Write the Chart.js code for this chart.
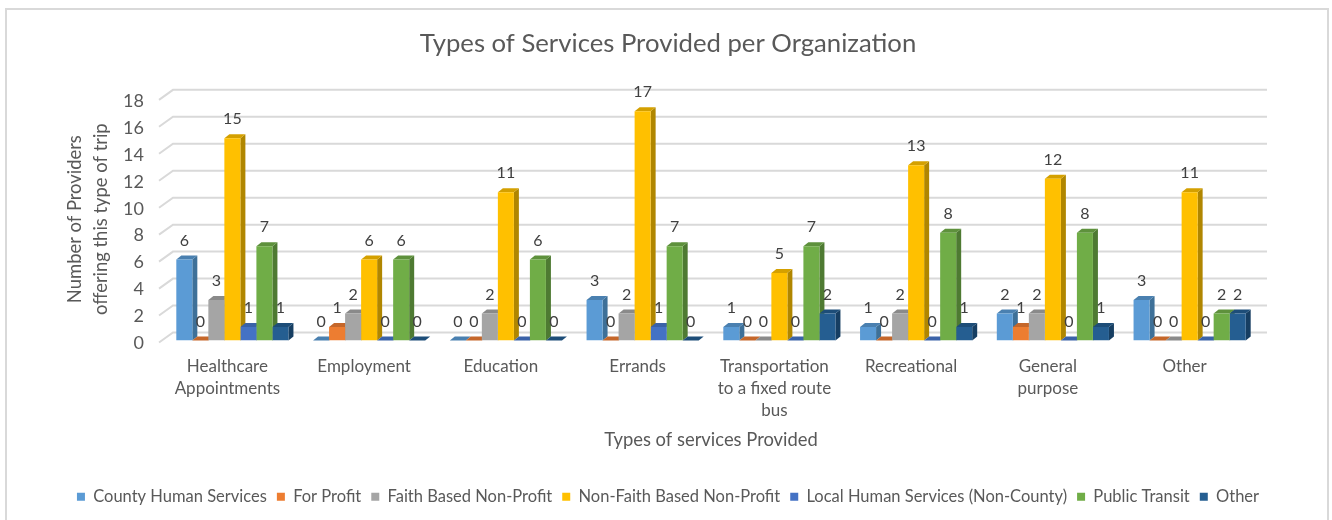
<!DOCTYPE html>
<html>
<head>
<meta charset="utf-8">
<script src="https://cdn.jsdelivr.net/npm/chart.js@4/dist/chart.umd.min.js"></script>
<style>
  html, body { margin: 0; padding: 0; background: #fff; }
  canvas { display: block; }
</style>
</head>
<body>
<canvas id="servicesChart" width="1332" height="520"></canvas>
<script>
// values
const categories = [
    ['Healthcare', 'Appointments'],
    'Employment',
    'Education',
    'Errands',
    ['Transportation', 'to a fixed route', 'bus'],
    'Recreational',
    ['General', 'purpose'],
    'Other'
];
const countyHuman = [6, 0, 0, 3, 1, 1, 2, 3];
const forProfit = [0, 1, 0, 0, 0, 0, 1, 0];
const faithBased = [3, 2, 2, 2, 0, 2, 2, 0];
const nonFaithBased = [15, 6, 11, 17, 5, 13, 12, 11];
const localHuman = [1, 0, 0, 1, 0, 0, 0, 0];
const publicTransit = [7, 6, 6, 7, 7, 8, 8, 2];
const otherOrg = [1, 0, 0, 0, 2, 1, 1, 2];
const yTicks = [0, 2, 4, 6, 8, 10, 12, 14, 16, 18];

const FONT = 'Lato, "Open Sans", sans-serif';
const TEXT = '#595959';

// [front, side, top]
const shades = {
    blue: ['#5B9BD5', '#3E7098', '#4A80B0'],
    orange: ['#ED7D31', '#A85A24', '#C5672A'],
    gray: ['#A5A5A5', '#767676', '#8A8A8A'],
    yellow: ['#FFC000', '#B08600', '#D4A000'],
    indigo: ['#4472C4', '#30518C', '#3A62A8'],
    green: ['#70AD47', '#4E7A32', '#5E913C'],
    navy: ['#255E91', '#163E62', '#1D4D78']
};

function series(label, data, shade) {
    return {
        label: label,
        data: data,
        backgroundColor: shade[0],
        sideColor: shade[1],
        topColor: shade[2],
        borderWidth: 0,
        categoryPercentage: 0.82,
        barPercentage: 1
    };
}

// frame round the chart and the back wall with its grid lines
const wallPlugin = {
    id: 'wall',
    beforeDraw(chart) {
        const c = chart.ctx;
        c.save();
        c.strokeStyle = '#d9d9d9';
        c.lineWidth = 2;
        c.strokeRect(6, 9, 1322, 530);
        c.restore();
    },
    beforeDatasetsDraw(chart) {
        const c = chart.ctx, y = chart.scales.y, a = chart.chartArea;
        c.save();
        c.strokeStyle = '#d9d9d9';
        c.lineWidth = 2;
        yTicks.forEach(function (t) {
            const py = y.getPixelForValue(t);
            c.beginPath();
            c.moveTo(a.left - 5, py + 2);
            c.lineTo(a.left + 9, py - 8);
            c.lineTo(a.right + 9, py - 8);
            c.stroke();
        });
        c.restore();
    }
};

// side and top faces go under the library's bars, so the next bar covers them
const depthPlugin = {
    id: 'depth',
    beforeDatasetsDraw(chart) {
        const c = chart.ctx, dx = 5, dy = 4;
        chart.data.datasets.forEach(function (ds, i) {
            chart.getDatasetMeta(i).data.forEach(function (bar) {
                const l = bar.x - bar.width / 2, r = bar.x + bar.width / 2;
                c.fillStyle = ds.sideColor;
                c.beginPath();
                c.moveTo(r, bar.y);
                c.lineTo(r + dx, bar.y - dy);
                c.lineTo(r + dx, bar.base - dy);
                c.lineTo(r, bar.base);
                c.closePath();
                c.fill();
                c.fillStyle = ds.topColor;
                c.beginPath();
                c.moveTo(l, bar.y);
                c.lineTo(l + dx, bar.y - dy);
                c.lineTo(r + dx, bar.y - dy);
                c.lineTo(r, bar.y);
                c.closePath();
                c.fill();
            });
        });
    },
    afterDatasetsDraw(chart) {
        const c = chart.ctx;
        c.save();
        c.font = '16px ' + FONT;
        c.fillStyle = '#404040';
        c.textAlign = 'center';
        c.textBaseline = 'middle';
        chart.data.datasets.forEach(function (ds, i) {
            chart.getDatasetMeta(i).data.forEach(function (bar, j) {
                c.fillText(String(ds.data[j]), bar.x, bar.y - 19);
            });
        });
        c.restore();
    }
};

const ctx = document.getElementById('servicesChart').getContext('2d');

new Chart(ctx, {
    type: 'bar',
    data: {
        labels: categories,
        datasets: [
            series('County Human Services', countyHuman, shades.blue),
            series('For Profit', forProfit, shades.orange),
            series('Faith Based Non-Profit', faithBased, shades.gray),
            series('Non-Faith Based Non-Profit', nonFaithBased, shades.yellow),
            series('Local Human Services (Non-County)', localHuman, shades.indigo),
            series('Public Transit', publicTransit, shades.green),
            series('Other', otherOrg, shades.navy)
        ]
    },
    plugins: [wallPlugin, depthPlugin],
    options: {
        responsive: false,
        animation: false,
        layout: { padding: { left: 62, right: 58, top: 0, bottom: 5 } },
        plugins: {
            title: {
                display: true,
                text: 'Types of Services Provided per Organization',
                color: TEXT,
                font: { family: FONT, size: 25.7, weight: 'normal' },
                padding: { top: 28, bottom: 39 }
            },
            legend: {
                position: 'bottom',
                labels: {
                    color: TEXT,
                    font: { family: FONT, size: 16.5 },
                    boxWidth: 8,
                    boxHeight: 8,
                    padding: 10
                }
            },
            tooltip: { enabled: false }
        },
        scales: {
            x: {
                grid: { display: false },
                border: { display: false },
                ticks: {
                    color: TEXT,
                    font: { family: FONT, size: 17, lineHeight: 1.3 },
                    labelOffset: -5,
                    maxRotation: 0,
                    padding: 7
                },
                title: {
                    display: true,
                    text: 'Types of services Provided',
                    color: TEXT,
                    font: { family: FONT, size: 18.4 },
                    padding: { top: 8, bottom: 27 }
                },
                afterFit(scale) { scale.height = 138; }
            },
            y: {
                min: 0,
                max: 18,
                grid: { display: false },
                border: { display: false },
                afterBuildTicks(scale) {
                    scale.ticks = yTicks.map(function (v) { return { value: v }; });
                },
                ticks: {
                    color: TEXT,
                    font: { family: FONT, size: 18 },
                    labelOffset: 3,
                    padding: 12
                },
                title: {
                    display: true,
                    text: ['Number of Providers', 'offering this type of trip'],
                    color: TEXT,
                    font: { family: FONT, size: 18.4, lineHeight: 1.4 },
                    padding: 0
                },
                afterFit(scale) { scale.width = 102; }
            },
            // empty axis on the right, only keeps the plot clear of the title's centre line
            spacer: {
                position: 'right',
                display: true,
                min: 0,
                max: 18,
                grid: { display: false },
                border: { display: false },
                ticks: { display: false },
                afterFit(scale) { scale.width = 16; }
            }
        }
    }
});
</script>
</body>
</html>
